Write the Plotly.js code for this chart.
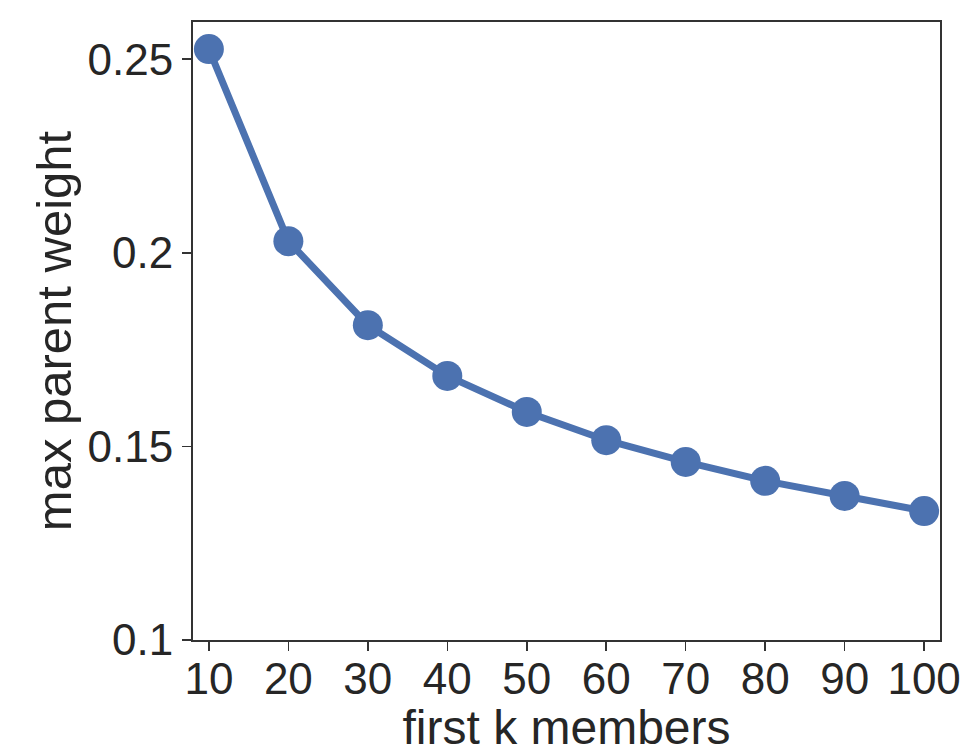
<!DOCTYPE html>
<html>
<head>
<meta charset="utf-8">
<script src="https://cdn.plot.ly/plotly-3.0.1.min.js"></script>
<style>html,body{margin:0;padding:0;background:#fff;}#chart{width:969px;height:754px;}</style>
</head>
<body>
<div id="chart"></div>
<script>
const kValues = [10, 20, 30, 40, 50, 60, 70, 80, 90, 100];
const maxParentWeight = [0.2526, 0.2030, 0.1813, 0.1682, 0.1589, 0.1516, 0.1460, 0.1411, 0.1372, 0.1333];
const xTickVals = [10, 20, 30, 40, 50, 60, 70, 80, 90, 100];
const yTickVals = [0.1, 0.15, 0.2, 0.25];
const yTickText = ["0.1", "0.15", "0.2", "0.25"];

const font = {family: "Liberation Sans, Arial, Helvetica, sans-serif", color: "#262626"};

Plotly.newPlot("chart", [{
  x: kValues,
  y: maxParentWeight,
  type: "scatter",
  mode: "lines+markers",
  line: {color: "#4c72b0", width: 7},
  marker: {color: "#4c72b0", size: 30},
  cliponaxis: false
}], {
  width: 969, height: 754,
  margin: {l: 193, r: 29, t: 22, b: 114},
  paper_bgcolor: "#fff", plot_bgcolor: "#fff",
  showlegend: false,
  font: Object.assign({size: 44}, font),
  xaxis: {
    range: [8, 102],
    tickvals: xTickVals,
    ticks: "outside", ticklen: 9, tickwidth: 1.5, tickcolor: "#333",
    ticklabelstandoff: -10,
    showgrid: false, zeroline: false,
    showline: true, linecolor: "#333", linewidth: 2, mirror: true,
    tickfont: Object.assign({size: 44}, font),
    title: {text: "first k members", font: Object.assign({size: 48}, font), standoff: 2}
  },
  yaxis: {
    range: [0.1, 0.2596],
    tickvals: yTickVals, ticktext: yTickText,
    ticks: "outside", ticklen: 9, tickwidth: 1.5, tickcolor: "#333",
    ticklabelstandoff: 0,
    showgrid: false, zeroline: false,
    showline: true, linecolor: "#333", linewidth: 2, mirror: true,
    tickfont: Object.assign({size: 44}, font),
    title: {text: "max parent weight", font: Object.assign({size: 49}, font), standoff: 0}
  }
}, {displayModeBar: false, staticPlot: true});
</script>
</body>
</html>
